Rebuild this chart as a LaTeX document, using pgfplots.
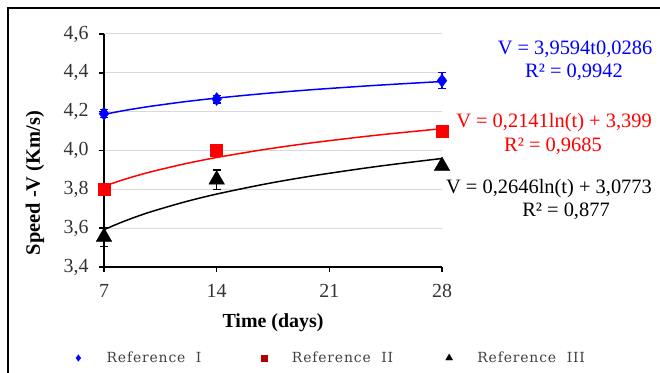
\documentclass[border=0pt]{standalone}
\usepackage{pgfplots}
\pgfplotsset{compat=1.18}
\usetikzlibrary{calc}
\usepackage{fontspec}
\setmainfont{Liberation Serif}
\newfontfamily\legfont{DejaVu Serif}[LetterSpace=6]
\definecolor{eqblue}{RGB}{0,0,255}
\definecolor{eqred}{RGB}{255,0,0}
\definecolor{leggray}{RGB}{64,64,64}
\begin{document}
\begin{tikzpicture}
\begin{axis}[
  name=ax,
  scale only axis, width=338bp, height=233bp,
  xmin=7, xmax=28, ymin=3.4, ymax=4.6,
  xtick={7,14,21,28}, ytick={3.4,3.6,...,4.61},
  axis x line*=bottom, axis y line*=left,
  axis line style={line width=2bp,-},
  tick align=outside, major tick length=5bp,
  tick style={line width=1.5bp,black},
  ymajorgrids, grid style={line width=1bp,color=black!15},
  /pgf/number format/assume math mode=true,
  /pgf/number format/use comma,
  yticklabel style={/pgf/number format/fixed,/pgf/number format/fixed zerofill,/pgf/number format/precision=1,font=\fontsize{20}{22}\selectfont,text=black!80,xshift=-7bp},
  xticklabel style={font=\fontsize{20}{22}\selectfont,text=black!80,yshift=-9bp},
  xlabel={\textbf{Time (days)}}, ylabel={\textbf{Speed -V (Km/s)}},
  xlabel style={font=\fontsize{20}{24}\selectfont,at={(axis description cs:0.5,-0.24)},anchor=center},
  ylabel style={font=\fontsize{20.5}{24}\selectfont,at={(axis description cs:-0.204,0.36)},anchor=center},
  clip=false,
  legend columns=3,
  legend style={at={(rel axis cs:-0.0888,-0.3906)},anchor=west,draw=none,fill=none,
    inner sep=0pt,font=\legfont\fontsize{14}{16}\selectfont,text=leggray,
    nodes={inner sep=0pt,outer sep=0pt},column sep=0pt},
  legend image code/.code={\path (-4bp,0bp) (28bp,0bp);\draw[#1] plot coordinates {(0bp,0bp)};},
]
% legend images
\addlegendimage{only marks,mark=diamond*,mark size=3.2bp,color=eqblue}
\addlegendentry{\makebox[153bp][l]{Reference\ \ I}}
\addlegendimage{only marks,mark=square*,mark size=3bp,color=red!70!black}
\addlegendentry{\makebox[153bp][l]{Reference\ \ II}}
\addlegendimage{only marks,mark=triangle*,mark size=4bp,color=black}
\addlegendentry{\makebox[120bp][l]{Reference\ \ III}}
% trendlines
\addplot[eqblue,line width=1.5bp,smooth,no marks,forget plot] coordinates {
(7,4.1860) (8,4.2020) (9,4.2162) (10,4.2289) (12,4.2511) (14,4.2698) (17,4.2936) (20,4.3136) (24,4.3361) (28,4.3553)};
\addplot[eqred,line width=1.5bp,smooth,no marks,forget plot] coordinates {
(7,3.8156) (8,3.8442) (9,3.8694) (10,3.8920) (12,3.9310) (14,3.9640) (17,4.0056) (20,4.0404) (24,4.0794) (28,4.1124)};
\addplot[black,line width=1.5bp,smooth,no marks,forget plot] coordinates {
(7,3.5922) (8,3.6275) (9,3.6587) (10,3.6866) (12,3.7348) (14,3.7756) (17,3.8270) (20,3.8700) (24,3.9182) (28,3.9590)};
% data
\addplot[only marks,mark=diamond*,mark size=6.5bp,color=eqblue,forget plot,
  error bars/.cd,y dir=both,y explicit,error bar style={line width=1.2bp,eqblue},
  error mark options={rotate=90,mark size=4bp,line width=1.2bp,eqblue}]
  coordinates {(7,4.19) +- (0,0.02) (14,4.265) +- (0,0.02) (28,4.36) +- (0,0.04)};
\addplot[only marks,mark=square*,mark size=6bp,color=eqred,forget plot]
  coordinates {(7,3.80) (14,4.00) (28,4.10)};
\addplot[only marks,mark=triangle*,mark size=9bp,color=black,forget plot,
  error bars/.cd,y dir=both,y explicit,error bar style={line width=1.2bp,black},
  error mark options={rotate=90,mark size=4bp,line width=1.2bp,black}]
  coordinates {(7,3.555) +- (0,0.05) (14,3.85) +- (0,0.05) (28,3.92) +- (0,0.01)};
\end{axis}
\coordinate (O) at ($(ax.south west)+(-104bp,-106bp)$);
\begin{scope}[shift={(O)},x=1bp,y=1bp]
\draw[line width=2.5bp] (8,0) -- (8,365) -- (660,365);
\node[eqblue,font=\fontsize{20.5}{24}\selectfont] at (575,373-49) {V = 3,9594t0,0286};
\node[eqblue,font=\fontsize{20.5}{24}\selectfont] at (574,373-72) {R² = 0,9942};
\node[eqred,font=\fontsize{20.5}{24}\selectfont] at (554,373-123) {V = 0,2141ln(t) + 3,399};
\node[eqred,font=\fontsize{20.5}{24}\selectfont] at (553,373-146) {R² = 0,9685};
\node[black,font=\fontsize{20.5}{24}\selectfont] at (549,373-189) {V = 0,2646ln(t) + 3,0773};
\node[black,font=\fontsize{20.5}{24}\selectfont] at (566,373-211) {R² = 0,877};
\end{scope}
\pgfresetboundingbox
\path[use as bounding box] (O) rectangle ++(660bp,373bp);
\end{tikzpicture}
\end{document}
